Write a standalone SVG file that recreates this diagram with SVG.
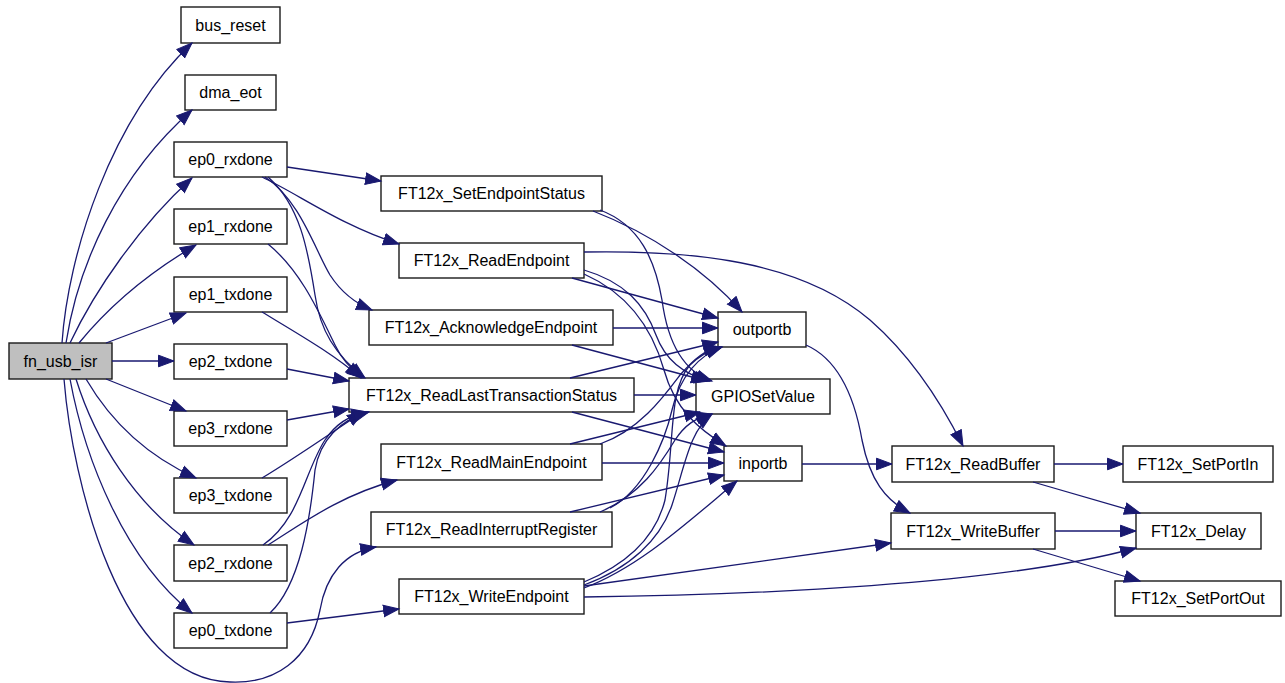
<svg xmlns="http://www.w3.org/2000/svg" width="1285" height="683" viewBox="0 0 1285 683">
  <style>
    .node rect { fill: #ffffff; stroke: #1a1a1a; stroke-width: 1.4; }
    .node.root rect { fill: #bfbfbf; }
    .node text { font-family: "Liberation Sans", Arial, sans-serif; font-size: 16px; fill: #000; text-anchor: middle; }
    .edges path { fill: none; stroke: #191970; stroke-width: 1.3; marker-end: url(#arrow); }
  </style>
  <defs>
    <marker id="arrow" markerWidth="18" markerHeight="14" refX="16" refY="7" orient="auto" markerUnits="userSpaceOnUse">
      <path d="M0.5,1.2 L16,7 L0.5,12.8 z" fill="#191970" stroke="#191970" stroke-width="1"/>
    </marker>
  </defs>
  <rect width="1285" height="683" fill="#ffffff"/>

  <!-- call graph nodes -->
  <g id="fn_usb_isr" class="node root"><rect x="9" y="343" width="103" height="36"/><text x="60.5" y="366.5">fn_usb_isr</text></g>
  <g id="bus_reset" class="node"><rect x="181" y="7" width="99" height="36"/><text x="230.5" y="30.5">bus_reset</text></g>
  <g id="dma_eot" class="node"><rect x="185" y="75" width="91" height="35"/><text x="230.5" y="98">dma_eot</text></g>
  <g id="ep0_rxdone" class="node"><rect x="174" y="142" width="113" height="35"/><text x="230.5" y="165">ep0_rxdone</text></g>
  <g id="ep1_rxdone" class="node"><rect x="174" y="209" width="113" height="35"/><text x="230.5" y="232">ep1_rxdone</text></g>
  <g id="ep1_txdone" class="node"><rect x="174" y="277" width="113" height="35"/><text x="230.5" y="300">ep1_txdone</text></g>
  <g id="ep2_txdone" class="node"><rect x="174" y="344" width="113" height="35"/><text x="230.5" y="367">ep2_txdone</text></g>
  <g id="ep3_rxdone" class="node"><rect x="174" y="411" width="113" height="35"/><text x="230.5" y="434">ep3_rxdone</text></g>
  <g id="ep3_txdone" class="node"><rect x="174" y="478" width="113" height="35"/><text x="230.5" y="501">ep3_txdone</text></g>
  <g id="ep2_rxdone" class="node"><rect x="174" y="545" width="113" height="36"/><text x="230.5" y="568.5">ep2_rxdone</text></g>
  <g id="ep0_txdone" class="node"><rect x="174" y="613" width="113" height="35"/><text x="230.5" y="636">ep0_txdone</text></g>
  <g id="FT12x_SetEndpointStatus" class="node"><rect x="381" y="176" width="221" height="35"/><text x="491.5" y="199">FT12x_SetEndpointStatus</text></g>
  <g id="FT12x_ReadEndpoint" class="node"><rect x="399" y="243" width="185" height="35"/><text x="491.5" y="266">FT12x_ReadEndpoint</text></g>
  <g id="FT12x_AcknowledgeEndpoint" class="node"><rect x="369" y="310" width="244" height="35"/><text x="491" y="333">FT12x_AcknowledgeEndpoint</text></g>
  <g id="FT12x_ReadLastTransactionStatus" class="node"><rect x="349" y="378" width="285" height="34"/><text x="491.5" y="400.5">FT12x_ReadLastTransactionStatus</text></g>
  <g id="FT12x_ReadMainEndpoint" class="node"><rect x="381" y="444" width="221" height="36"/><text x="491.5" y="467.5">FT12x_ReadMainEndpoint</text></g>
  <g id="FT12x_ReadInterruptRegister" class="node"><rect x="371" y="512" width="241" height="35"/><text x="491.5" y="535">FT12x_ReadInterruptRegister</text></g>
  <g id="FT12x_WriteEndpoint" class="node"><rect x="399" y="579" width="185" height="35"/><text x="491.5" y="602">FT12x_WriteEndpoint</text></g>
  <g id="outportb" class="node"><rect x="718" y="312" width="88" height="35"/><text x="762" y="335">outportb</text></g>
  <g id="GPIOSetValue" class="node"><rect x="696" y="379" width="134" height="35"/><text x="763" y="402">GPIOSetValue</text></g>
  <g id="inportb" class="node"><rect x="724" y="446" width="78" height="35"/><text x="763" y="469">inportb</text></g>
  <g id="FT12x_ReadBuffer" class="node"><rect x="892" y="446" width="162" height="36"/><text x="973" y="469.5">FT12x_ReadBuffer</text></g>
  <g id="FT12x_WriteBuffer" class="node"><rect x="891" y="513" width="164" height="36"/><text x="973" y="536.5">FT12x_WriteBuffer</text></g>
  <g id="FT12x_SetPortIn" class="node"><rect x="1123" y="446" width="150" height="36"/><text x="1198" y="469.5">FT12x_SetPortIn</text></g>
  <g id="FT12x_Delay" class="node"><rect x="1136" y="513" width="125" height="36"/><text x="1198.5" y="536.5">FT12x_Delay</text></g>
  <g id="FT12x_SetPortOut" class="node"><rect x="1115" y="581" width="166" height="35"/><text x="1198" y="604">FT12x_SetPortOut</text></g>

  <!-- call edges -->
  <g id="edges" class="edges">
    <!-- fn_usb_isr -->
    <path d="M62,343 C68,255 110,120 192,43"/>
    <path d="M66,343 C78,265 118,175 192,110"/>
    <path d="M70,343 C95,290 140,225 192,178"/>
    <path d="M79,343 C110,305 150,272 196,245"/>
    <path d="M106,343 L186,313"/>
    <path d="M112,361 L174,361"/>
    <path d="M106,379 L186,411"/>
    <path d="M86,379 C110,420 145,455 196,478"/>
    <path d="M76,379 C95,440 135,505 194,545"/>
    <path d="M70,379 C85,460 125,560 192,613"/>
    <path d="M64,379 C72,480 120,680 230,682 C275,684 310,660 320,610 C326,575 345,552 376,547"/>
    <!-- ep0_rxdone -->
    <path d="M287,167 L381,181"/>
    <path d="M262,177 C300,195 340,225 399,244"/>
    <path d="M265,177 C300,200 315,250 330,275 C343,295 357,304 372,310"/>
    <path d="M268,177 C300,205 308,250 315,295 C320,330 335,355 365,378"/>
    <!-- other endpoint handlers -->
    <path d="M268,244 C300,270 318,310 335,345 C342,360 352,370 363,378"/>
    <path d="M262,312 C300,335 335,355 361,378"/>
    <path d="M287,369 L349,381"/>
    <path d="M287,420 L349,409"/>
    <path d="M262,478 C300,455 335,430 363,412"/>
    <path d="M263,545 C300,520 305,470 325,440 C335,425 350,415 367,412"/>
    <path d="M270,613 C300,585 310,520 315,470 C320,440 340,420 369,412"/>
    <path d="M268,545 C300,525 340,495 397,480"/>
    <path d="M287,623 L399,609"/>
    <!-- FT12x_SetEndpointStatus -->
    <path d="M593,211 C650,233 705,270 742,312"/>
    <path d="M600,210 C640,225 655,260 662,300 C668,345 685,372 712,381"/>
    <!-- FT12x_ReadEndpoint -->
    <path d="M584,252 C690,250 800,260 870,320 C910,355 940,400 963,446"/>
    <path d="M572,278 L718,318"/>
    <path d="M584,270 C625,282 645,305 656,335 C666,362 685,375 710,381"/>
    <path d="M584,274 C620,290 650,320 664,370 C675,410 700,430 726,446"/>
    <!-- FT12x_AcknowledgeEndpoint -->
    <path d="M613,328 L718,328"/>
    <path d="M572,345 L707,381"/>
    <!-- FT12x_ReadLastTransactionStatus -->
    <path d="M570,378 L718,342"/>
    <path d="M634,395 L696,395"/>
    <path d="M572,412 L724,452"/>
    <!-- FT12x_ReadMainEndpoint -->
    <path d="M600,444 C640,430 665,395 680,375 C695,358 705,350 720,347"/>
    <path d="M570,444 L700,412"/>
    <path d="M602,463 L724,463"/>
    <!-- FT12x_ReadInterruptRegister -->
    <path d="M570,512 L724,475"/>
    <path d="M600,512 C640,495 660,465 675,440 C685,425 695,418 712,414"/>
    <path d="M610,508 C645,490 665,440 672,410 C680,375 700,355 722,347"/>
    <!-- FT12x_WriteEndpoint -->
    <path d="M584,582 C625,565 655,540 665,500 C675,440 668,390 690,365 C700,355 710,350 722,347"/>
    <path d="M584,585 C630,568 660,540 672,505 C685,465 690,430 712,414"/>
    <path d="M584,588 C640,567 690,520 737,481"/>
    <path d="M584,586 L891,543"/>
    <path d="M584,597 C750,595 1000,585 1136,548"/>
    <!-- low-level port access -->
    <path d="M806,345 C840,360 855,400 862,440 C870,480 885,500 910,513"/>
    <path d="M802,464 L892,464"/>
    <!-- buffer routines -->
    <path d="M1054,464 L1123,464"/>
    <path d="M1033,482 L1140,513"/>
    <path d="M1055,531 L1136,531"/>
    <path d="M1033,549 L1140,581"/>
  </g>
</svg>
